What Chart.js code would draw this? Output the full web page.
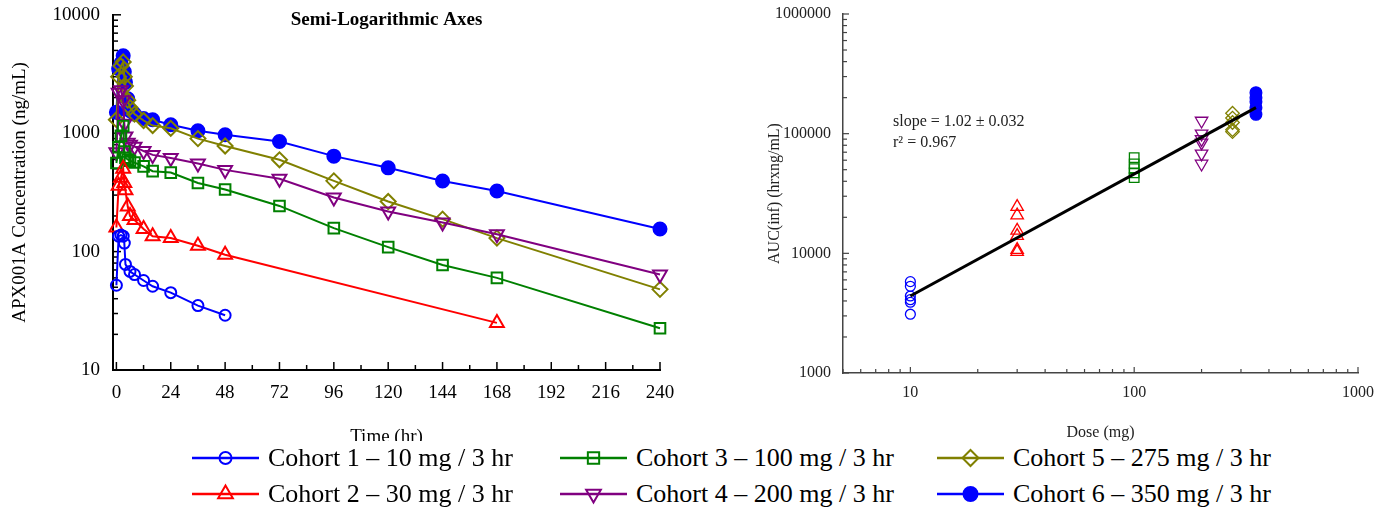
<!DOCTYPE html>
<html>
<head>
<meta charset="utf-8">
<script src="https://cdn.jsdelivr.net/npm/chart.js@4.4.1/dist/chart.umd.min.js"></script>
<style>
  body { margin: 0; background: #fff; }
  #wrap { position: relative; width: 1377px; height: 512px; overflow: hidden; }
  #pk { position: absolute; left: 0; top: 0; }
  #auc { position: absolute; left: 690px; top: 0; }
  #legend { position: absolute; left: 0; top: 441px; width: 1377px; height: 71px; background: #fff;
            font-family: "Liberation Serif", "Times New Roman", serif; font-size: 26px; color: #000; }
  .item { position: absolute; display: flex; align-items: center; height: 30px; white-space: nowrap; }
  .item canvas { margin-right: 9px; }
</style>
</head>
<body>
<div id="wrap">
  <canvas id="pk" width="690" height="460"></canvas>
  <canvas id="auc" width="687" height="460"></canvas>
  <div id="legend"></div>
</div>
<script>
// sampling times (hr) for the concentration-time profiles
const times = [0, 1, 2, 3, 3.5, 4, 5, 6, 8, 12, 16, 24, 36, 48, 72, 96, 120, 144, 168, 240];

const cohortLabels = [
  'Cohort 1 – 10 mg / 3 hr',
  'Cohort 2 – 30 mg / 3 hr',
  'Cohort 3 – 100 mg / 3 hr',
  'Cohort 4 – 200 mg / 3 hr',
  'Cohort 5 – 275 mg / 3 hr',
  'Cohort 6 – 350 mg / 3 hr'
];

// mean APX001A concentration (ng/mL), null = not sampled
const conc1 = [52, 135, 138, 135, 118, 78, null, 68, 64, 57, 51, 45, 35, 29, null, null, null, null, null, null];
const conc2 = [160, 360, 420, 500, 380, 330, 240, 200, 185, 155, 135, 130, 112, 94, null, null, null, null, 25, null];
const conc3 = [560, 760, 950, 1150, 700, 620, 600, 585, 565, 525, 478, 465, 380, 335, 243, 158, 109, 77, 60, 22.5];
const conc4 = [690, 2200, 2300, 1900, 1200, 940, 830, 800, 770, 706, 656, 617, 555, 490, 412, 286, 218, 176, 140, 64];
const conc5 = [1300, 3000, 3700, 4000, 3000, 2500, 1900, 1650, 1450, 1280, 1160, 1100, 900, 780, 596, 396, 265, 188, 130, 48];
const conc6 = [1500, 3500, 3900, 4500, 3300, 2700, 1950, 1550, 1450, 1330, 1300, 1180, 1050, 970, 850, 640, 510, 395, 325, 155];

// dose proportionality: individual AUC(inf) per cohort
const doses = [10, 30, 100, 200, 275, 350];
const auc1 = [5800, 5300, 4400, 4100, 3900, 3100];
const auc2 = [24500, 20800, 15500, 14000, 10700, 10300];
const auc3 = [63000, 56000, 51000, 47000, 43000];
const auc4 = [128000, 100000, 90000, 84000, 68000, 56000];
const auc5 = [148000, 135000, 124000, 108000, 104000];
const auc6 = [220000, 200000, 185000, 165000, 145000];
const fitDose = [10, 350];
const fitAuc = [4400, 165000];

const yTicksPk = [10, 100, 1000, 10000];

const FONT = '"Liberation Serif", "Times New Roman", serif';
Chart.defaults.font.family = FONT;
Chart.defaults.color = '#000';

const marks = [
  { color: '#0000ff', style: 'circle',   r: 5.5, rot: 0,   filled: false },
  { color: '#ff0000', style: 'triangle', r: 8,   rot: 0,   filled: false },
  { color: '#008000', style: 'rect',     r: 7.5, rot: 0,   filled: false },
  { color: '#800080', style: 'triangle', r: 8,   rot: 180, filled: false },
  { color: '#808000', style: 'rectRot',  r: 7.5, rot: 0,   filled: false },
  { color: '#0000ff', style: 'circle',   r: 6.5, rot: 0,   filled: true }
];

const isPow10 = v => Math.abs(Math.log10(v) - Math.round(Math.log10(v))) < 1e-9;
const isWhole = v => {
  const p = Math.pow(10, Math.floor(Math.log10(v) + 1e-9));
  return Math.abs(v / p - Math.round(v / p)) < 1e-9;
};

// tick marks pointing into the plot, like the original
const innerTicks = {
  id: 'innerTicks',
  beforeDatasetsDraw(chart, args, opts) {
    const { ctx, chartArea: a } = chart;
    ctx.save();
    ctx.strokeStyle = opts.color;
    ctx.lineWidth = opts.width;
    ['x', 'y'].forEach(id => {
      const s = chart.scales[id];
      s.ticks.forEach(t => {
        const v = t.value;
        let len = 0;
        if (s.type === 'logarithmic') {
          len = isPow10(v) ? opts.major : (isWhole(v) ? opts.minor : 0);
        } else {
          len = v % opts.step === 0 ? opts.major : (v % (opts.step / 2) === 0 ? opts.minor : 0);
        }
        if (!len) return;
        const p = s.getPixelForValue(v);
        ctx.beginPath();
        if (s.isHorizontal()) {
          ctx.moveTo(p, a.bottom);
          ctx.lineTo(p, a.bottom - len);
        } else {
          ctx.moveTo(a.left, p);
          ctx.lineTo(a.left + len, p);
        }
        ctx.stroke();
      });
    });
    ctx.restore();
  }
};

const fitX = h => s => { s.height = h; s.paddingLeft = 0; s.paddingRight = 0; };
const fitY = w => s => { s.width = w; s.paddingTop = 0; s.paddingBottom = 0; };

const pkSets = [conc1, conc2, conc3, conc4, conc5, conc6].map((vals, i) => ({
  label: cohortLabels[i],
  data: times.map((t, j) => ({ x: t, y: vals[j] })),
  showLine: true,
  spanGaps: true,
  borderColor: marks[i].color,
  borderWidth: 2,
  pointStyle: marks[i].style,
  pointRadius: marks[i].r,
  pointRotation: marks[i].rot,
  pointBorderWidth: 2,
  pointBorderColor: marks[i].color,
  pointBackgroundColor: marks[i].filled ? marks[i].color : 'rgba(0,0,0,0)',
  clip: false
}));

new Chart(document.getElementById('pk'), {
  type: 'scatter',
  data: { datasets: pkSets },
  options: {
    responsive: false,
    animation: false,
    layout: { padding: { top: 0, right: 30, left: 0, bottom: 0 } },
    scales: {
      x: {
        type: 'linear', min: -1.5, max: 240,
        grid: { display: false, drawTicks: false },
        border: { color: '#000', width: 2 },
        ticks: {
          stepSize: 12, includeBounds: false, autoSkip: false, maxRotation: 0, padding: 12,
          font: { size: 19 },
          callback: v => (v % 24 === 0 ? String(v) : '')
        },
        title: { display: true, text: 'Time (hr)', font: { size: 19 }, padding: { top: 0, bottom: 12 } },
        afterFit: fitX(90)
      },
      y: {
        type: 'logarithmic', min: 10, max: 10000,
        grid: { display: false, drawTicks: false },
        border: { color: '#000', width: 2 },
        ticks: {
          autoSkip: false, padding: 13, font: { size: 19 },
          callback: v => (yTicksPk.includes(v) ? String(v) : '')
        },
        title: { display: true, text: 'APX001A Concentration (ng/mL)', font: { size: 19 }, padding: { top: 9, bottom: 0 } },
        afterFit: fitY(113)
      }
    },
    plugins: {
      legend: { display: false },
      tooltip: { enabled: false },
      title: {
        display: true, text: 'Semi-Logarithmic Axes', fullSize: false,
        font: { size: 19, weight: 'bold' }, color: '#000',
        padding: { top: 9, bottom: -17 }
      },
      innerTicks: { color: '#000', width: 1.5, major: 8, minor: 5, step: 24 }
    }
  },
  plugins: [innerTicks]
});

// regression annotation
const fitNote = {
  id: 'fitNote',
  afterDatasetsDraw(chart) {
    const { ctx, chartArea: a } = chart;
    ctx.save();
    ctx.font = '16px ' + FONT;
    ctx.fillStyle = '#222';
    ctx.textBaseline = 'middle';
    ctx.fillText('slope = 1.02 ± 0.032', a.left + 50, a.top + 108);
    ctx.fillText('r² = 0.967', a.left + 50, a.top + 129);
    ctx.restore();
  }
};

const aucSets = [auc1, auc2, auc3, auc4, auc5, auc6].map((vals, i) => ({
  label: cohortLabels[i],
  data: vals.map(v => ({ x: doses[i], y: v })),
  pointStyle: marks[i].style,
  pointRadius: marks[i].r * 0.9,
  pointRotation: marks[i].rot,
  pointBorderWidth: 1.3,
  pointBorderColor: marks[i].color,
  pointBackgroundColor: marks[i].filled ? marks[i].color : 'rgba(0,0,0,0)',
  clip: false
}));
aucSets.unshift({
  label: 'fit',
  data: fitDose.map((d, i) => ({ x: d, y: fitAuc[i] })),
  showLine: true,
  borderColor: '#000',
  borderWidth: 3,
  pointRadius: 0
});

new Chart(document.getElementById('auc'), {
  type: 'scatter',
  data: { datasets: aucSets },
  options: {
    responsive: false,
    animation: false,
    layout: { padding: { top: 14, right: 19, left: 0, bottom: 0 } },
    scales: {
      x: {
        type: 'logarithmic', min: 5, max: 1000,
        grid: { display: false, drawTicks: false },
        border: { color: '#444', width: 1.5 },
        ticks: {
          autoSkip: false, maxRotation: 0, padding: 10, font: { size: 16 }, color: '#222',
          callback: v => (v >= 10 && isPow10(v) ? String(v) : '')
        },
        title: { display: true, text: 'Dose (mg)', font: { size: 16 }, color: '#222', padding: { top: 0, bottom: 18 } },
        afterFit: fitX(87)
      },
      y: {
        type: 'logarithmic', min: 1000, max: 1000000,
        grid: { display: false, drawTicks: false },
        border: { color: '#444', width: 1.5 },
        ticks: {
          autoSkip: false, padding: 12, font: { size: 16 }, color: '#222',
          callback: v => (isPow10(v) ? String(v) : '')
        },
        title: { display: true, text: 'AUC(inf) (hrxng/mL)', font: { size: 16 }, color: '#222', padding: { top: 75, bottom: 0 } },
        afterFit: fitY(153)
      }
    },
    plugins: {
      legend: { display: false },
      tooltip: { enabled: false },
      innerTicks: { color: '#444', width: 1.2, major: 6, minor: 4, step: 1 }
    }
  },
  plugins: [innerTicks, fitNote]
});

// shared legend below both panels (column-major order, as in the figure)
const legendEl = document.getElementById('legend');
const colX = [192, 560, 937];
const rowY = [2, 38];
cohortLabels.forEach((label, i) => {
  const m = marks[i];
  const item = document.createElement('div');
  item.className = 'item';
  item.style.left = colX[Math.floor(i / 2)] + 'px';
  item.style.top = rowY[i % 2] + 'px';
  const icon = document.createElement('canvas');
  icon.width = 67; icon.height = 30;
  const c = icon.getContext('2d');
  c.strokeStyle = m.color; c.lineWidth = 2.5;
  c.beginPath(); c.moveTo(0, 15); c.lineTo(67, 15); c.stroke();
  c.fillStyle = m.filled ? m.color : 'rgba(0,0,0,0)';
  c.lineWidth = 2;
  Chart.helpers.drawPoint(c, { pointStyle: m.style, radius: m.r + 0.5, rotation: m.rot, borderWidth: 2 }, 33.5, 15);
  const text = document.createElement('span');
  text.textContent = label;
  item.appendChild(icon);
  item.appendChild(text);
  legendEl.appendChild(item);
});
</script>
</body>
</html>
